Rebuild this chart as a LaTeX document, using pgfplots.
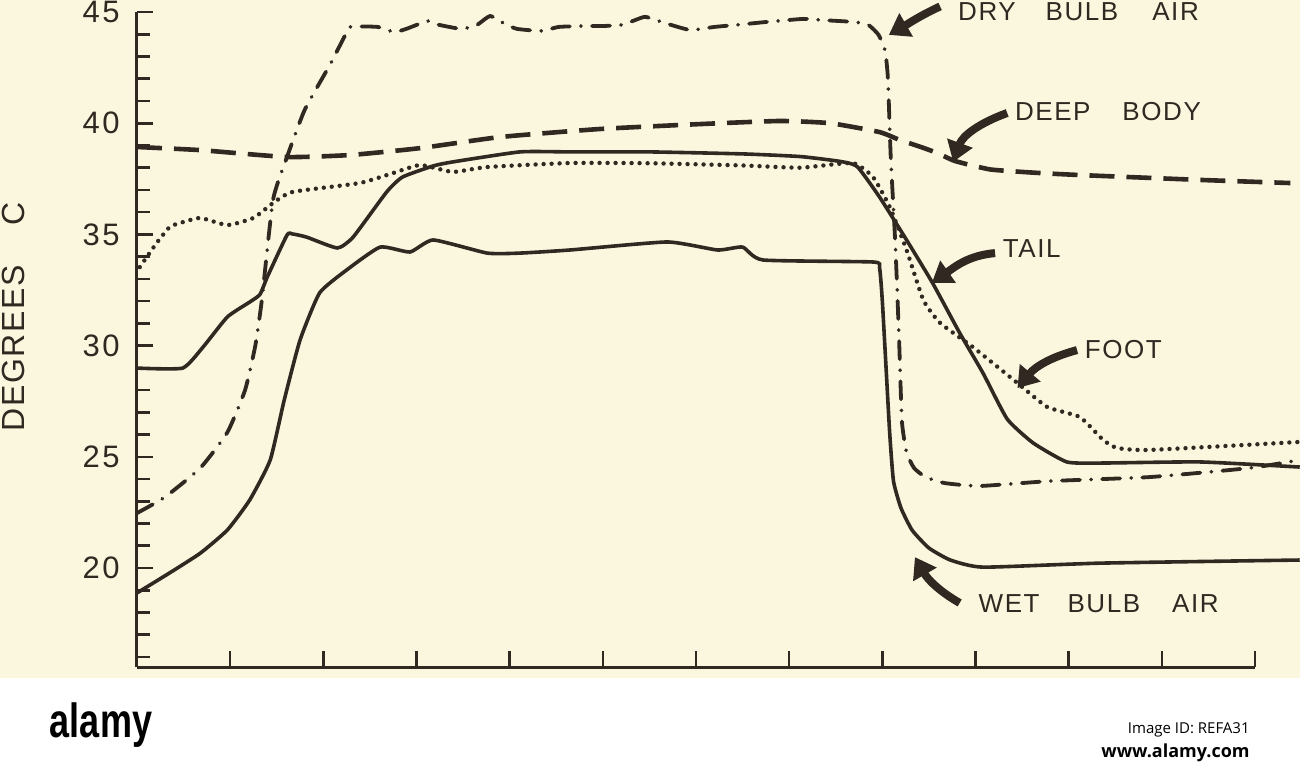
\documentclass[border=0pt]{standalone}
\usepackage{pgfplots}
\pgfplotsset{compat=1.18}
\usepackage{pgfplotstable}
\usetikzlibrary{arrows.meta}
\usepackage{fontspec}
\setmainfont{Liberation Sans}
\newfontfamily\lblfont[LetterSpace=6]{Liberation Sans}
\newfontfamily\tickfont[LetterSpace=8]{Liberation Sans}
\newfontfamily\ylblfont[LetterSpace=5]{Liberation Sans}
\newfontfamily\osans{Open Sans}
\definecolor{paper}{RGB}{251,247,223}
\definecolor{ink}{RGB}{48,40,33}

\pgfplotstableread{
x y
0 38.93
0.68 38.79
1.61 38.48
2.29 38.57
3.04 38.88
3.90 39.38
4.97 39.74
6.04 39.96
6.90 40.10
7.44 40.00
7.97 39.60
8.19 39.24
8.40 38.95
8.59 38.66
8.78 38.30
9.16 37.92
9.69 37.76
10.12 37.67
11.41 37.45
12.38 37.31
}\deepbody

\pgfplotstableread{
x y
0 22.47
0.30 23.19
0.68 24.50
0.97 26.10
1.16 28.00
1.27 30.00
1.34 32.05
1.46 36.55
1.61 38.48
1.80 40.60
2.07 42.62
2.23 43.92
2.29 44.33
2.58 44.33
2.76 44.10
2.89 44.24
3.12 44.60
3.20 44.46
3.48 44.24
3.65 44.42
3.79 44.82
3.95 44.46
4.08 44.24
4.34 44.15
4.53 44.33
4.81 44.37
5.00 44.37
5.20 44.42
5.35 44.64
5.46 44.78
5.70 44.46
5.94 44.19
6.20 44.33
6.44 44.42
6.75 44.55
7.15 44.69
7.34 44.64
7.70 44.55
7.85 44.42
7.96 43.97
8.03 43.25
8.06 42.00
8.09 38.50
8.14 34.50
8.18 30.25
8.21 26.60
8.26 25.20
8.34 24.50
8.46 24.10
8.67 23.82
9.05 23.69
9.80 23.91
10.87 24.09
11.95 24.50
12.48 24.86
}\drybulb

\pgfplotstableread{
x y
0 28.99
0.49 28.99
0.71 29.94
0.97 31.29
1.21 31.96
1.32 32.30
1.40 33.10
1.61 34.97
1.67 35.02
1.82 34.88
2.15 34.39
2.32 34.88
2.68 36.91
2.85 37.58
3.18 38.08
3.39 38.26
4.11 38.71
4.65 38.71
5.50 38.71
6.50 38.62
7.12 38.50
7.55 38.28
7.73 38.05
7.97 36.68
8.26 34.75
8.54 32.81
8.83 30.57
9.08 28.77
9.34 26.70
9.62 25.62
9.98 24.77
10.34 24.72
11.41 24.77
12.48 24.54
}\tail

\pgfplotstableread{
x y
0.03 33.53
0.21 34.61
0.35 35.33
0.46 35.51
0.68 35.74
0.97 35.42
1.25 35.74
1.46 36.41
1.67 36.91
2.39 37.31
2.75 37.76
3.04 38.12
3.39 37.81
3.76 38.03
4.65 38.21
5.50 38.20
6.50 38.10
7.12 38.00
7.68 38.21
7.90 37.58
8.08 36.23
8.26 34.30
8.44 32.05
8.62 31.02
8.97 29.94
9.45 28.32
9.77 27.24
10.12 26.79
10.37 25.76
10.52 25.40
10.87 25.31
12.48 25.67
}\foot

\pgfplotstableread{
x y
0 18.88
0.35 19.78
0.68 20.67
0.97 21.71
1.21 23.06
1.43 24.86
1.58 27.55
1.75 30.25
1.96 32.37
2.25 33.40
2.61 34.43
2.93 34.21
3.18 34.75
3.76 34.16
4.11 34.16
4.65 34.30
5.69 34.66
6.23 34.30
6.50 34.43
6.72 33.85
7.90 33.76
7.97 33.50
8.00 32.00
8.04 29.00
8.08 26.00
8.12 23.90
8.20 22.70
8.32 21.70
8.50 20.90
8.73 20.36
9.08 20.04
10.34 20.22
12.48 20.36
}\wetbulb

\begin{document}
\begin{tikzpicture}
\fill[paper] (-68.5pt,-5.5pt) rectangle (581.5pt,333.5pt);
\fill[white] (-68.5pt,-50.5pt) rectangle (581.5pt,-5.5pt);
\begin{axis}[
  at={(0,0)}, anchor=south west,
  scale only axis, width=559pt, height=327.5pt,
  xmin=0, xmax=12, ymin=15.55, ymax=45,
  axis x line*=bottom, axis y line*=left,
  axis line style={line width=1.5pt, draw=ink, -},
  tick align=inside,
  xtick={1,...,12}, xticklabels={},
  ytick={20,25,30,35,40,45},
  yticklabels={20,25,30,35,40,45},
  minor ytick={16,...,44},
  major tick length=8pt, minor tick length=6.5pt,
  tick style={line width=1.3pt, draw=ink},
  yticklabel style={font=\tickfont\fontsize{15.5}{15.5}\selectfont, text=ink, inner sep=0pt, xshift=-8.5pt},
  clip=false,
  every axis plot/.append style={ink, smooth, tension=0.3},
]
\addplot[line width=2.3pt, dash pattern=on 12.5pt off 6pt] table {\deepbody};
\addplot[line width=1.9pt, line cap=round, dash pattern=on 9pt off 5.5pt on 0.1pt off 5.5pt] table {\drybulb};
\addplot[line width=1.8pt] table {\tail};
\addplot[line width=2.2pt, line cap=round, dash pattern=on 0pt off 4pt] table {\foot};
\addplot[line width=1.8pt] table {\wetbulb};

\node[anchor=base west, font=\lblfont\fontsize{13}{13}\selectfont, text=ink, inner sep=0pt] at (axis cs:8.81,44.62) {DRY\hspace{15pt}BULB\hspace{17pt}AIR};
\node[anchor=base west, font=\lblfont\fontsize{13}{13}\selectfont, text=ink, inner sep=0pt] at (axis cs:9.42,40.14) {DEEP\hspace{16pt}BODY};
\node[anchor=base west, font=\lblfont\fontsize{13}{13}\selectfont, text=ink, inner sep=0pt] at (axis cs:9.29,33.94) {TAIL};
\node[anchor=base west, font=\lblfont\fontsize{13}{13}\selectfont, text=ink, inner sep=0pt] at (axis cs:10.17,29.44) {FOOT};
\node[anchor=base west, font=\lblfont\fontsize{13}{13}\selectfont, text=ink, inner sep=0pt] at (axis cs:9.03,17.98) {WET\hspace{14pt}BULB\hspace{16pt}AIR};

\draw[ink, line width=4pt, -{Triangle[length=10pt,width=13pt]}] (axis cs:8.62,45.25) to[out=205,in=30] (axis cs:8.07,43.97);
\draw[ink, line width=4pt, -{Triangle[length=10pt,width=13pt]}] (axis cs:9.34,40.46) to[out=200,in=70] (axis cs:8.76,38.26);
\draw[ink, line width=4pt, -{Triangle[length=10pt,width=13pt]}] (axis cs:9.21,34.16) to[out=185,in=35] (axis cs:8.53,32.81);
\draw[ink, line width=4pt, -{Triangle[length=10pt,width=13pt]}] (axis cs:10.09,29.80) to[out=195,in=50] (axis cs:9.45,28.09);
\draw[ink, line width=4pt, -{Triangle[length=10pt,width=13pt]}] (axis cs:8.83,18.43) to[out=150,in=-60] (axis cs:8.35,20.49);

\node[rotate=90, font=\ylblfont\fontsize{16}{16}\selectfont, text=ink, inner sep=0pt] at ([xshift=-62pt]rel axis cs:0,0.535) {DEGREES\hspace{20pt}C};
\end{axis}
\node[anchor=base, font=\bfseries\fontsize{24}{24}\selectfont, inner sep=0pt] at (-18pt,-35pt) {\scalebox{0.75}[1]{alamy}};
\node[anchor=base east, font=\osans\fontsize{7.5}{7.5}\selectfont, inner sep=0pt] at (556.5pt,-33pt) {Image ID: REFA31};
\node[anchor=base east, font=\osans\bfseries\fontsize{9}{9}\selectfont, inner sep=0pt] at (556.5pt,-45pt) {www.alamy.com};
\pgfresetboundingbox
\useasboundingbox (-68.5pt,-50.5pt) rectangle (581.5pt,333.5pt);
\end{tikzpicture}
\end{document}
